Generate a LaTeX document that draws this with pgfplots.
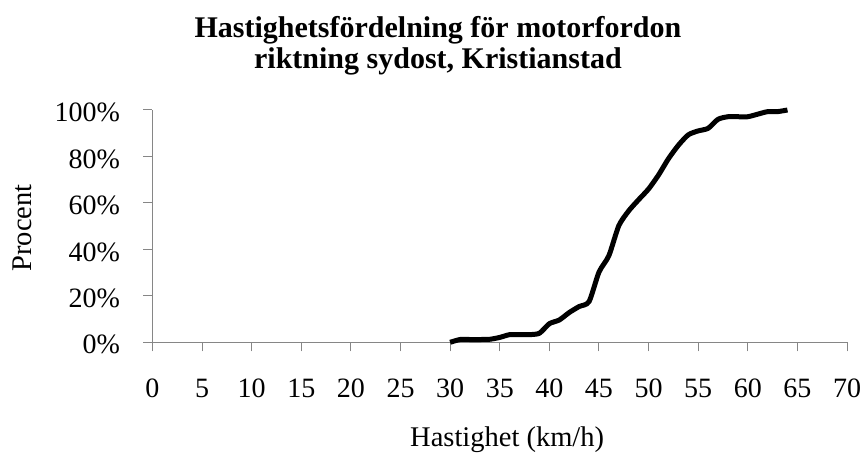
\documentclass[border=0pt]{standalone}
\usepackage{fontspec}
\setmainfont{Liberation Serif}
\usepackage{pgfplots}
\pgfplotsset{compat=1.18}
\definecolor{axgray}{HTML}{868686}
\begin{document}
\begin{tikzpicture}
\useasboundingbox (0,0) rectangle (863pt,455pt);
\begin{axis}[
  at={(152.5pt,112.7pt)}, anchor=south west,
  scale only axis, width=694.5pt, height=232.3pt,
  xmin=0, xmax=70, ymin=0, ymax=100,
  axis lines=left,
  axis line style={draw=axgray, line width=1pt, -},
  xtick={0,5,...,70}, ytick={0,20,...,100},
  yticklabel={\pgfmathprintnumber{\tick}\%},
  tick align=outside, major tick length=9pt,
  tick style={draw=axgray, line width=1pt},
  /pgf/number format/assume math mode=true,
  ticklabel style={font=\fontsize{28}{28}\selectfont},
  xticklabel style={anchor=base, yshift=-46.7pt},
  yticklabel style={anchor=base east, yshift=-11.7pt, xshift=-20pt},
  clip=false,
  every axis title shift=0pt,
  title={Hastighetsfördelning för motorfordon\\riktning sydost, Kristianstad},
  title style={at={(axis description cs:0.411,1.4046)}, anchor=north, inner sep=0pt, align=center, font=\bfseries\fontsize{30}{31.6}\selectfont},
  xlabel={Hastighet (km/h)},
  xlabel style={at={(axis description cs:0.5107,-0.4494)}, anchor=base, inner sep=0pt, font=\fontsize{28.5}{28.5}\selectfont},
  ylabel={Procent},
  ylabel style={at={(axis description cs:-0.1742,0.492)}, anchor=base, inner sep=0pt, font=\fontsize{28.5}{28.5}\selectfont},
]
\addplot[black, line width=5pt, smooth, tension=0.4, line join=round] coordinates {
(30,0) (31,1.2) (32,1.2) (33,1.2) (34,1.3) (35,2.1) (36,3.3) (37,3.3) (38,3.3) (39,3.9)
(40,8.0) (41,9.6) (42,12.8) (43,15.4) (44,17.5) (45,30.2) (46,37.3) (47,50.2) (48,56.6) (49,61.4)
(50,66.0) (51,72.0) (52,79.0) (53,84.8) (54,89.3) (55,91.0) (56,92.1) (57,96.0) (58,97.1) (59,97.1)
(60,97.1) (61,98.2) (62,99.3) (63,99.3) (64,100)
};
\end{axis}
\end{tikzpicture}
\end{document}
